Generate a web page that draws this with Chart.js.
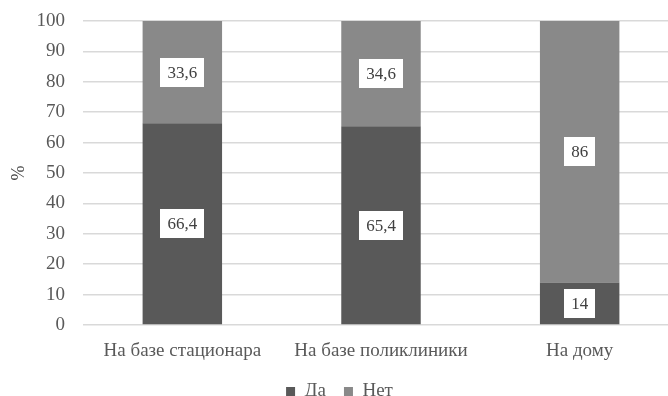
<!DOCTYPE html>
<html lang="ru">
<head>
<meta charset="utf-8">
<title>Да / Нет</title>
<script src="https://cdn.jsdelivr.net/npm/chart.js@4.4.1/dist/chart.umd.min.js"></script>
<style>
  html, body { margin: 0; padding: 0; background: #ffffff; overflow: hidden; }
  #wrap { width: 692px; height: 396px; }
</style>
</head>
<body>
<div id="wrap"><canvas id="chart" width="692" height="396"></canvas></div>
<script>
// Категории и доли ответов, %
const categories = ['На базе стационара', 'На базе поликлиники', 'На дому'];
const yesValues = [66.4, 65.4, 14];
const noValues = [33.6, 34.6, 86];
const seriesNames = ['Да', 'Нет'];
const yTicks = [0, 10, 20, 30, 40, 50, 60, 70, 80, 90, 100];

const FONT = '"Liberation Serif", "Times New Roman", serif';

// Подписи значений в белых рамках по центру сегментов
const valueLabels = {
  id: 'valueLabels',
  afterDatasetsDraw(chart) {
    const ctx = chart.ctx;
    ctx.save();
    ctx.font = '17px ' + FONT;
    ctx.textAlign = 'center';
    ctx.textBaseline = 'middle';
    chart.data.datasets.forEach((ds, di) => {
      const meta = chart.getDatasetMeta(di);
      meta.data.forEach((bar, i) => {
        const v = ds.data[i];
        const text = String(v).replace('.', ',');
        const cx = bar.x;
        const cy = (bar.y + bar.base) / 2;
        const w = ctx.measureText(text).width + 14;
        const h = 29;
        ctx.fillStyle = '#ffffff';
        ctx.fillRect(Math.round(cx - w / 2), Math.round(cy - h / 2), Math.round(w), h);
        ctx.fillStyle = '#404040';
        ctx.fillText(text, cx, cy + 1);
      });
    });
    ctx.restore();
  }
};

new Chart(document.getElementById('chart'), {
  type: 'bar',
  data: {
    labels: categories,
    datasets: [
      { label: seriesNames[0], data: yesValues, backgroundColor: '#595959' },
      { label: seriesNames[1], data: noValues, backgroundColor: '#898989' }
    ]
  },
  options: {
    responsive: false,
    animation: false,
    devicePixelRatio: 1,
    layout: { padding: { top: 21, right: 13, bottom: -15, left: 0 } },
    datasets: { bar: { categoryPercentage: 1, barPercentage: 0.4 } },
    plugins: {
      legend: {
        position: 'bottom',
        labels: {
          font: { family: FONT, size: 19 },
          color: '#595959',
          boxWidth: 9,
          boxHeight: 9,
          padding: 18
        }
      },
      tooltip: { enabled: false }
    },
    scales: {
      x: {
        stacked: true,
        grid: { display: false },
        border: { display: false },
        afterFit(scale) { scale.height = 39; },
        ticks: { font: { family: FONT, size: 19 }, color: '#595959', padding: 7 }
      },
      y: {
        stacked: true,
        min: 0,
        max: 100,
        afterBuildTicks(scale) { scale.ticks = yTicks.map(v => ({ value: v })); },
        afterFit(scale) {
          scale.width = 83;
          scale.paddingTop = 0;
          scale.paddingBottom = 0;
        },
        grid: { color: '#d9d9d9', lineWidth: 1.5, drawTicks: false },
        border: { display: false },
        ticks: { font: { family: FONT, size: 19 }, color: '#595959', padding: 18 },
        title: {
          display: true,
          text: '%',
          font: { family: FONT, size: 18 },
          color: '#404040',
          padding: { top: 8, bottom: 0 }
        }
      }
    }
  },
  plugins: [valueLabels]
});
</script>
</body>
</html>
